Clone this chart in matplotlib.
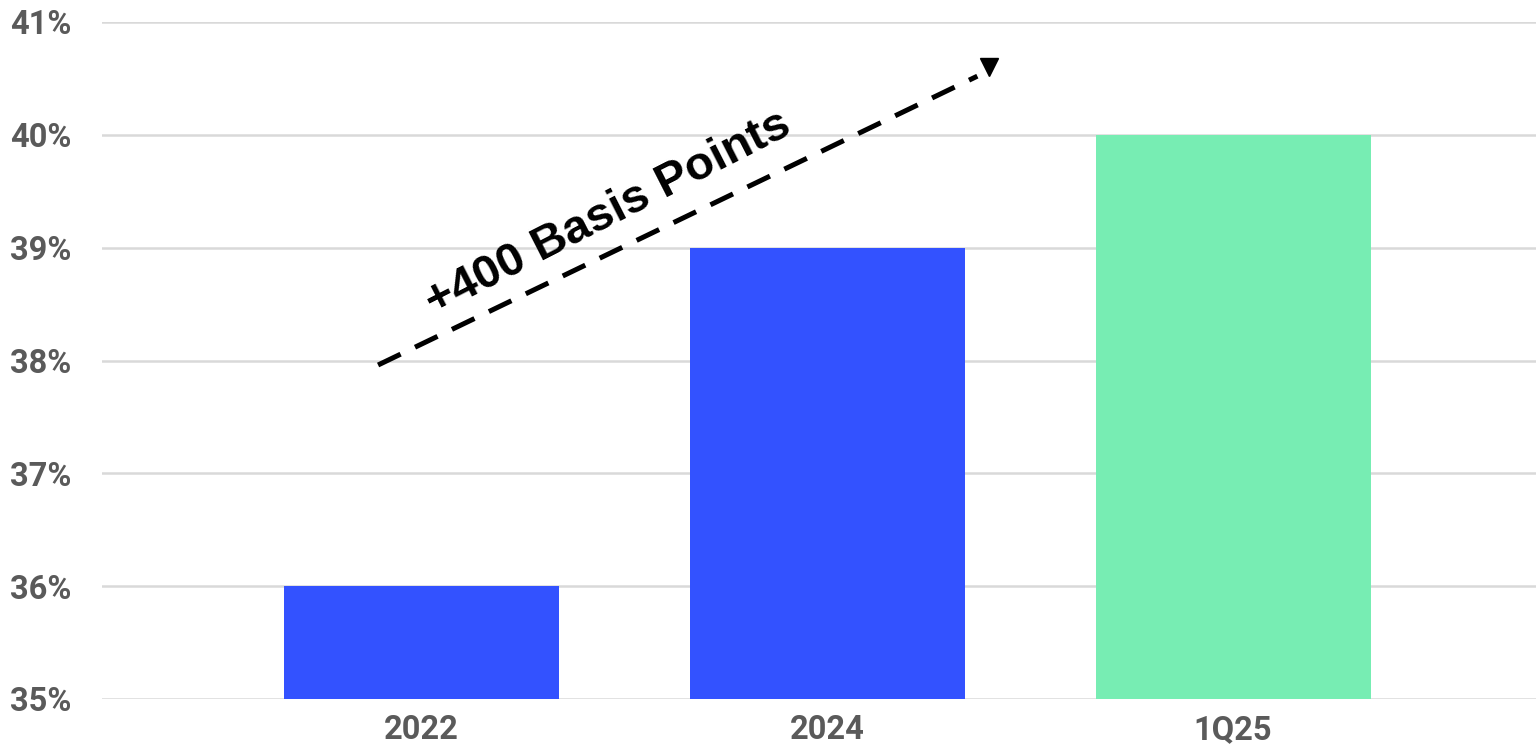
import matplotlib.pyplot as plt
from matplotlib.ticker import FuncFormatter

categories = ['2022', '2024', '1Q25']
values = [36, 39, 40]
bar_colors = ['#3352ff', '#3352ff', '#77edb3']
y_ticks = [35, 36, 37, 38, 39, 40, 41]
note = '+400 Basis Points'

plt.rcParams['font.family'] = ['Roboto', 'DejaVu Sans']

fig = plt.figure(figsize=(15.36, 7.44), dpi=100)
ax = fig.add_axes([102/1536, 1-699/744, 1-102/1536, (699-22)/744])

x = range(len(categories))
ax.bar(x, [v-35 for v in values], bottom=35, width=0.677, color=bar_colors, zorder=3)

ax.set_xlim(-0.786, 2.746)
ax.set_ylim(35, 41)
ax.set_yticks(y_ticks)
ax.yaxis.set_major_formatter(FuncFormatter(lambda v, p: f'{v:.0f}%'))
ax.set_xticks(list(x))
ax.set_xticklabels(categories)
ax.grid(axis='y', color='#d9d9d9', linewidth=1.8, zorder=0)
for s in ax.spines.values():
    s.set_visible(False)
ax.tick_params(axis='both', length=0, labelsize=23.5, labelcolor='#5a5a5a')
ax.tick_params(axis='y', pad=22)
ax.tick_params(axis='x', pad=11)
for lbl in ax.get_xticklabels() + ax.get_yticklabels():
    lbl.set_fontweight('bold')

# dashed trend arrow
ax.plot([-0.106, 1.37], [37.96, 40.52], color='black', linewidth=3.6,
        dashes=(5, 3.2), solid_capstyle='butt', dash_capstyle='butt', zorder=4)
ax.plot([1.398], [40.6], marker='v', markersize=13, color='black', zorder=4)
ax.text(0.462, 39.3, note, rotation=27, ha='center', va='center',
        fontsize=34, fontweight='bold', family=['Liberation Sans', 'DejaVu Sans'],
        color='black', zorder=5, rotation_mode='anchor')

fig.savefig('out.png', dpi=100)
